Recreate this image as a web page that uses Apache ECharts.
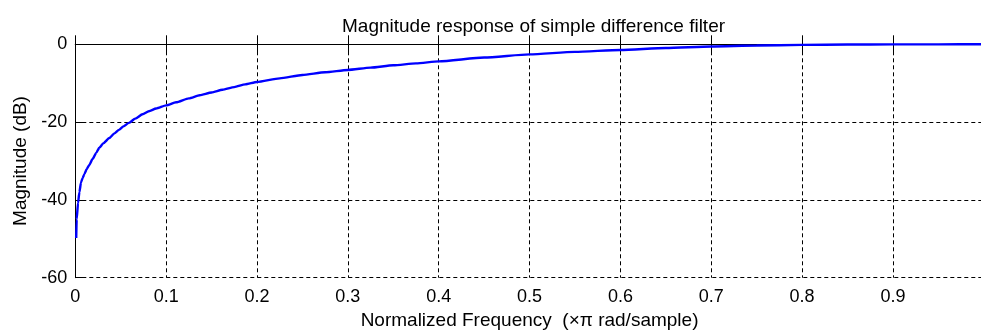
<!DOCTYPE html>
<html>
<head>
<meta charset="utf-8">
<script src="https://cdn.jsdelivr.net/npm/echarts@6/dist/echarts.min.js"></script>
<style>
html,body{margin:0;padding:0;background:#fff;}
#chart{width:981px;height:333px;}
</style>
</head>
<body>
<div id="chart"></div>
<script>
const titleText = 'Magnitude response of simple difference filter';
const xName = 'Normalized Frequency  (\u00d7\u03c0 rad/sample)';
const yName = 'Magnitude (dB)';
const freq = [0.001,0.0015,0.003,0.0045,0.0063,0.008,0.010,0.0125,0.0154,0.019,0.023,0.0264,0.031,0.0374,0.043,0.048,0.053,0.059,0.066,0.074,0.081,0.089,0.100,0.111,0.125,0.137,0.150,0.162,0.175,0.187,0.200,0.225,0.250,0.275,0.300,0.325,0.350,0.375,0.400,0.450,0.500,0.550,0.600,0.650,0.700,0.750,0.800,0.850,0.900,0.950,0.999];
const magDb = [-49.8,-45,-40.8,-38,-35.5,-34.4,-33.4,-32.1,-31.0,-29.5,-27.9,-26.6,-25.4,-24.1,-22.9,-22.0,-21.1,-20.2,-19.1,-18.0,-17.2,-16.5,-15.7,-14.9,-13.9,-13.1,-12.4,-11.7,-11.0,-10.3,-9.7,-8.75,-7.9,-7.2,-6.6,-6.0,-5.4,-4.9,-4.4,-3.4,-2.6,-1.95,-1.45,-0.95,-0.55,-0.3,-0.15,-0.07,-0.03,-0.01,0];

const FONT = 'Liberation Sans, Arial, sans-serif';
const chart = echarts.init(document.getElementById('chart'), null, {renderer:'canvas'});
const dashed = {show:true, lineStyle:{color:'#000', width:1, type:[4,3]}};
chart.setOption({
  animation:false,
  backgroundColor:'#fff',
  title:{text:titleText, left:337, top:12, textStyle:{fontFamily:FONT, fontSize:19, fontWeight:'normal', color:'#000'}},
  grid:{left:75.3, top:44.3, width:908.5, height:233.4, containLabel:false, outerBoundsMode:'none'},
  xAxis:[{
    type:'value', min:0, max:1, interval:0.1,
    name:xName, nameLocation:'middle', nameGap:34,
    nameTextStyle:{fontFamily:FONT, fontSize:19, color:'#000'},
    axisLine:{show:true, lineStyle:{color:'#000', width:1}},
    axisTick:{show:true, inside:true, length:9, lineStyle:{color:'#000'}},
    axisLabel:{fontFamily:FONT, fontSize:18, color:'#000', margin:10,
      formatter:function(v){ if (Math.abs(v) < 1e-9) return '0'; if (v > 0.995) return ''; return v.toFixed(1); }},
    splitLine:dashed
  },{
    type:'value', position:'top', min:0, max:1, interval:0.1,
    axisLine:{show:true, lineStyle:{color:'#000', width:1}},
    axisTick:{show:true, inside:true, length:9, lineStyle:{color:'#000'}},
    axisLabel:{show:false}, splitLine:{show:false}
  }],
  yAxis:{
    type:'value', min:-60, max:0, interval:20,
    name:yName, nameLocation:'middle', nameGap:44,
    nameTextStyle:{fontFamily:FONT, fontSize:19, color:'#000'},
    axisLine:{show:true, lineStyle:{color:'#000', width:1}},
    axisTick:{show:true, inside:true, length:9, lineStyle:{color:'#000'}},
    axisLabel:{fontFamily:FONT, fontSize:18, color:'#000', margin:8},
    splitLine:dashed
  },
  series:[{
    type:'line', xAxisIndex:0, showSymbol:false, smooth:0.2, smoothMonotone:'x',
    lineStyle:{color:'#0000ff', width:2.4}, itemStyle:{color:'#0000ff'},
    data: freq.map((f,i)=>[f, magDb[i]])
  }]
});
</script>
</body>
</html>
